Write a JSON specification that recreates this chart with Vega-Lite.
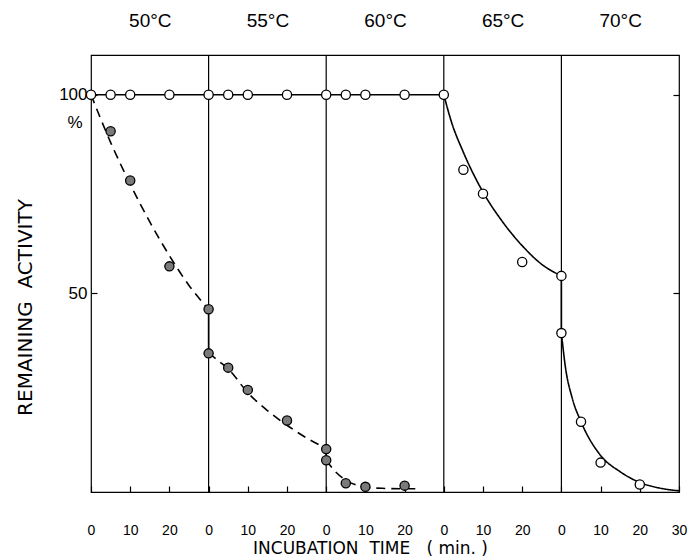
{
  "$schema": "https://vega.github.io/schema/vega-lite/v6.json",
  "width": 588,
  "height": 437,
  "autosize": "none",
  "padding": {"left": 91, "top": 55, "right": 12, "bottom": 68},
  "background": "white",
  "config": {
    "view": {"stroke": "black", "strokeWidth": 1.2},
    "font": "Liberation Sans",
    "axis": {"domain": false, "grid": false, "labelColor": "black", "titleColor": "black", "tickColor": "black", "tickWidth": 1.2, "labelFont": "Liberation Sans", "titleFont": "DejaVu Sans", "titleFontWeight": "normal"}
  },
  "datasets": {
    "bounds": [{"t": 30}, {"t": 60}, {"t": 90}, {"t": 120}],
    "curves": [
      {"seg": "s1", "style": "solid", "i": 0, "t": 0, "v": 100},
      {"seg": "s1", "style": "solid", "i": 1, "t": 90, "v": 100},
      {"seg": "s2", "style": "solid", "i": 0, "t": 90, "v": 100},
      {"seg": "s2", "style": "solid", "i": 1, "t": 92, "v": 93},
      {"seg": "s2", "style": "solid", "i": 2, "t": 95, "v": 85.5},
      {"seg": "s2", "style": "solid", "i": 3, "t": 100, "v": 75.5},
      {"seg": "s2", "style": "solid", "i": 4, "t": 105, "v": 68},
      {"seg": "s2", "style": "solid", "i": 5, "t": 110, "v": 62},
      {"seg": "s2", "style": "solid", "i": 6, "t": 115, "v": 57.3},
      {"seg": "s2", "style": "solid", "i": 7, "t": 120, "v": 54.4},
      {"seg": "j3", "style": "solid", "i": 0, "t": 120, "v": 54.4},
      {"seg": "j3", "style": "solid", "i": 1, "t": 120, "v": 40},
      {"seg": "s3", "style": "solid", "i": 0, "t": 120, "v": 40},
      {"seg": "s3", "style": "solid", "i": 1, "t": 121, "v": 31.6},
      {"seg": "s3", "style": "solid", "i": 2, "t": 122.8, "v": 23.5},
      {"seg": "s3", "style": "solid", "i": 3, "t": 125, "v": 17.7},
      {"seg": "s3", "style": "solid", "i": 4, "t": 130, "v": 9.2},
      {"seg": "s3", "style": "solid", "i": 5, "t": 135, "v": 5.1},
      {"seg": "s3", "style": "solid", "i": 6, "t": 140, "v": 2.4},
      {"seg": "s3", "style": "solid", "i": 7, "t": 145, "v": 1.0},
      {"seg": "s3", "style": "solid", "i": 8, "t": 150, "v": 0.3},
      {"seg": "j1", "style": "solid", "i": 0, "t": 30, "v": 46},
      {"seg": "j1", "style": "solid", "i": 1, "t": 30, "v": 35},
      {"seg": "j2", "style": "solid", "i": 0, "t": 60, "v": 11},
      {"seg": "j2", "style": "solid", "i": 1, "t": 60, "v": 8},
      {"seg": "d1", "style": "dashed", "i": 0, "t": 0, "v": 100},
      {"seg": "d1", "style": "dashed", "i": 1, "t": 5, "v": 88},
      {"seg": "d1", "style": "dashed", "i": 2, "t": 10, "v": 77.5},
      {"seg": "d1", "style": "dashed", "i": 3, "t": 15, "v": 68},
      {"seg": "d1", "style": "dashed", "i": 4, "t": 20, "v": 59.5},
      {"seg": "d1", "style": "dashed", "i": 5, "t": 25, "v": 52},
      {"seg": "d1", "style": "dashed", "i": 6, "t": 30, "v": 46},
      {"seg": "d2", "style": "dashed", "i": 0, "t": 30, "v": 35},
      {"seg": "d2", "style": "dashed", "i": 1, "t": 32.5, "v": 33},
      {"seg": "d2", "style": "dashed", "i": 2, "t": 35, "v": 31},
      {"seg": "d2", "style": "dashed", "i": 3, "t": 40, "v": 25},
      {"seg": "d2", "style": "dashed", "i": 4, "t": 45, "v": 20.5},
      {"seg": "d2", "style": "dashed", "i": 5, "t": 50, "v": 16.8},
      {"seg": "d2", "style": "dashed", "i": 6, "t": 55, "v": 13.6},
      {"seg": "d2", "style": "dashed", "i": 7, "t": 60, "v": 11},
      {"seg": "d3", "style": "dashed", "i": 0, "t": 60, "v": 8},
      {"seg": "d3", "style": "dashed", "i": 1, "t": 62, "v": 5.5},
      {"seg": "d3", "style": "dashed", "i": 2, "t": 65, "v": 3},
      {"seg": "d3", "style": "dashed", "i": 3, "t": 67.5, "v": 1.8},
      {"seg": "d3", "style": "dashed", "i": 4, "t": 70, "v": 1.2},
      {"seg": "d3", "style": "dashed", "i": 5, "t": 75, "v": 0.9},
      {"seg": "d3", "style": "dashed", "i": 6, "t": 80, "v": 0.8},
      {"seg": "d3", "style": "dashed", "i": 7, "t": 84, "v": 0.8}
    ],
    "points": [
      {"kind": "filled", "t": 5, "v": 90.8},
      {"kind": "filled", "t": 10, "v": 78.4},
      {"kind": "filled", "t": 20, "v": 56.8},
      {"kind": "filled", "t": 30, "v": 46.0},
      {"kind": "filled", "t": 30, "v": 34.9},
      {"kind": "filled", "t": 35, "v": 31.3},
      {"kind": "filled", "t": 40, "v": 25.7},
      {"kind": "filled", "t": 50, "v": 18.0},
      {"kind": "filled", "t": 60, "v": 10.8},
      {"kind": "filled", "t": 60, "v": 8.0},
      {"kind": "filled", "t": 65, "v": 2.2},
      {"kind": "filled", "t": 70, "v": 1.3},
      {"kind": "filled", "t": 80, "v": 1.6},
      {"kind": "open", "t": 0, "v": 100},
      {"kind": "open", "t": 5, "v": 100},
      {"kind": "open", "t": 10, "v": 100},
      {"kind": "open", "t": 20, "v": 100},
      {"kind": "open", "t": 30, "v": 100},
      {"kind": "open", "t": 35, "v": 100},
      {"kind": "open", "t": 40, "v": 100},
      {"kind": "open", "t": 50, "v": 100},
      {"kind": "open", "t": 60, "v": 100},
      {"kind": "open", "t": 65, "v": 100},
      {"kind": "open", "t": 70, "v": 100},
      {"kind": "open", "t": 80, "v": 100},
      {"kind": "open", "t": 90, "v": 100},
      {"kind": "open", "t": 95, "v": 81.1},
      {"kind": "open", "t": 100, "v": 75.1},
      {"kind": "open", "t": 110, "v": 57.9},
      {"kind": "open", "t": 120, "v": 54.4},
      {"kind": "open", "t": 120, "v": 40.0},
      {"kind": "open", "t": 125, "v": 17.7},
      {"kind": "open", "t": 130, "v": 7.4},
      {"kind": "open", "t": 140, "v": 1.9}
    ],
    "unit": [{"t": 0, "v": 93, "text": "%"}]
  },
  "resolve": {"scale": {"x": "shared", "y": "shared"}, "axis": {"x": "independent", "y": "independent"}},
  "layer": [
    {
      "data": {"name": "bounds"},
      "mark": {"type": "rule", "color": "black", "strokeWidth": 1.2},
      "encoding": {
        "x": {"field": "t", "type": "quantitative", "scale": {"domain": [0, 150], "nice": false, "zero": false},
          "axis": {"orient": "top", "values": [15, 45, 75, 105, 135], "labelExpr": "datum.value == 15 ? '50°C' : datum.value == 45 ? '55°C' : datum.value == 75 ? '60°C' : datum.value == 105 ? '65°C' : '70°C'", "ticks": false, "labelFontSize": 19, "labelPadding": 25, "title": null}}
      }
    },
    {
      "data": {"name": "curves"},
      "mark": {"type": "line", "color": "black", "strokeWidth": 1.6, "interpolate": "monotone", "clip": true},
      "encoding": {
        "x": {"field": "t", "type": "quantitative", "scale": {"domain": [0, 150], "nice": false, "zero": false},
          "axis": {"orient": "bottom", "values": [0, 10, 20, 30, 40, 50, 60, 70, 80, 90, 100, 110, 120, 130, 140, 150], "labelExpr": "datum.value == 150 ? '30' : '' + (datum.value % 30)", "tickSize": -6, "labelPadding": 37, "labelFontSize": 14, "labelFlush": false, "labelOverlap": false, "title": "INCUBATION\u00a0\u00a0TIME\u00a0\u00a0\u00a0(\u00a0min.\u00a0)", "titleFontSize": 17, "titleX": 279, "titleY": 56, "titleAlign": "center", "titleBaseline": "middle", "titleAnchor": null}},
        "y": {"field": "v", "type": "quantitative", "scale": {"domain": [0, 110], "nice": false, "zero": false},
          "axis": {"orient": "left", "values": [50, 100], "tickSize": -6, "labelPadding": 10, "labelFontSize": 17, "title": "REMAINING\u00a0\u00a0ACTIVITY", "titleFontSize": 20, "titleY": 252, "titleX": -66, "titleAngle": -90, "titleAlign": "center", "titleBaseline": "middle"}},
        "detail": {"field": "seg", "type": "nominal"},
        "order": {"field": "i", "type": "quantitative"},
        "strokeDash": {"field": "style", "type": "nominal", "scale": {"domain": ["solid", "dashed"], "range": [[1, 0], [9, 6]]}, "legend": null}
      }
    },
    {
      "data": {"name": "points"},
      "mark": {"type": "point", "filled": true, "opacity": 1, "size": 85, "strokeWidth": 1.3, "stroke": "black"},
      "encoding": {
        "x": {"field": "t", "type": "quantitative", "axis": null},
        "y": {"field": "v", "type": "quantitative",
          "axis": {"orient": "right", "values": [50, 100], "tickSize": -6, "labels": false, "title": null}},
        "fill": {"field": "kind", "type": "nominal", "scale": {"domain": ["open", "filled"], "range": ["white", "#7a7a7a"]}, "legend": null}
      }
    },
    {
      "data": {"name": "unit"},
      "mark": {"type": "text", "fontSize": 17, "dx": -16, "align": "center", "baseline": "middle", "color": "black"},
      "encoding": {
        "x": {"field": "t", "type": "quantitative", "axis": null},
        "y": {"field": "v", "type": "quantitative", "axis": null},
        "text": {"field": "text"}
      }
    }
  ]
}
